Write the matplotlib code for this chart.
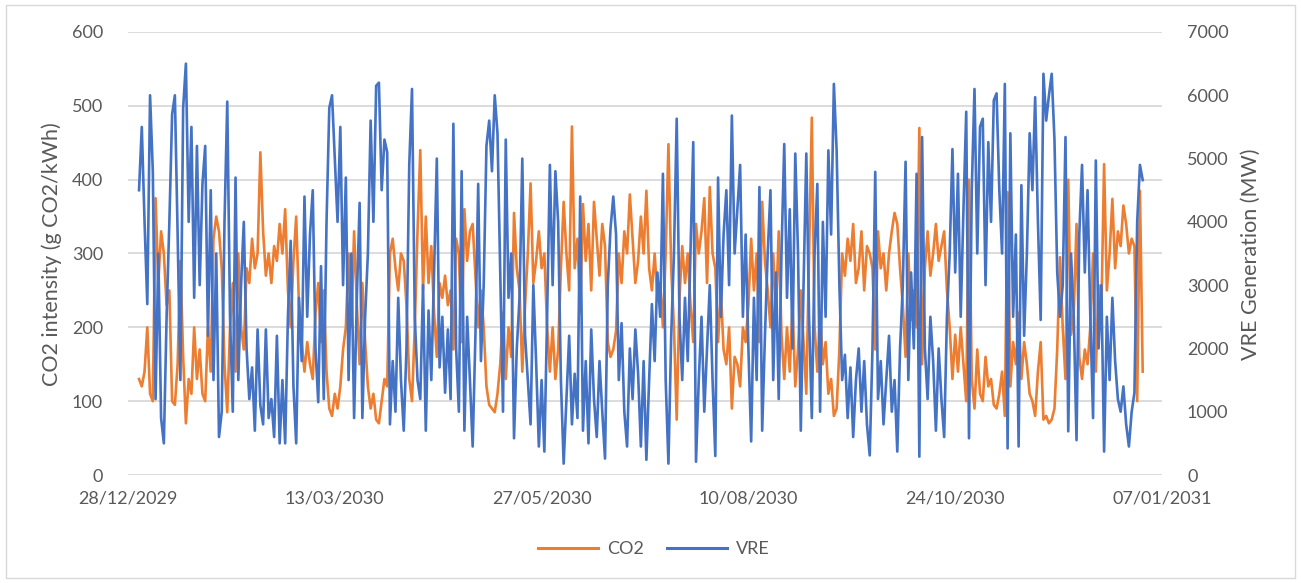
import matplotlib
matplotlib.use("Agg")
import matplotlib.pyplot as plt
from matplotlib.patches import Rectangle
from matplotlib.lines import Line2D
import pandas as pd

start_date = "2030-01-01"

vre = [
    4500, 5500, 4000, 2700, 6000, 4800, 1200, 3500, 900, 500,
    2500, 4000, 5700, 6000, 3800, 1500, 5800, 6500, 4000, 5500,
    2800, 5200, 3000, 4600, 5200, 2200, 4500, 1500, 3500, 600,
    1000, 4000, 5900, 2500, 1000, 4700, 1500, 3000, 4000, 2000,
    1200, 1700, 700, 2300, 1100, 800, 2300, 900, 1200, 600,
    2200, 500, 1500, 500, 2500, 3700, 1400, 500, 2800, 1800,
    4400, 2500, 3800, 4500, 2000, 1150, 3300, 1200, 4000, 5800,
    6000, 5000, 4000, 5500, 3000, 4700, 1500, 3500, 900, 2800,
    4300, 900, 2500, 3500, 5600, 4000, 6150, 6200, 4500, 5300,
    5100, 800, 1800, 1000, 2800, 1500, 700, 2000, 4900, 6100,
    2500, 1500, 1200, 3000, 700, 2600, 1500, 3200, 5000, 1700,
    2500, 1300, 2300, 1200, 5550, 2000, 1000, 4800, 700, 2500,
    1500, 450, 2200, 4600, 1800, 3000, 5200, 5600, 4800, 6000,
    5400, 3200, 1000, 5300, 2800, 3500, 580, 2000, 2800, 5000,
    2200, 1500, 800, 3000, 1800, 450, 1500, 370, 2500, 4900,
    3000, 4800, 4000, 1500, 180, 1200, 2200, 800, 1600, 900,
    4400, 700, 1800, 500, 2300, 1200, 600, 1800, 1000, 260,
    3000, 3900, 4400, 3800, 1500, 2400, 1000, 450, 2000, 1200,
    2300, 1600, 450, 1800, 240, 1500, 2700, 1800, 3200, 2500,
    4760, 1500, 180, 2200, 3500, 5630, 2500, 1500, 2800, 1800,
    3500, 5260, 210, 1500, 2500, 1000, 2000, 3000, 1500, 300,
    4700, 2500, 3800, 4500, 3000, 5680, 3500, 4200, 4900, 2500,
    3800, 2000, 530, 2800, 1500, 4550, 700, 2200, 3500, 4500,
    1500, 3200, 1200, 3500, 5230, 2800, 4200, 2000, 5080, 3500,
    700, 3000, 5080, 2500, 900, 3500, 4600, 1000, 4000, 2500,
    5130, 3800, 6180, 5130, 3000, 1500, 1900, 900, 1700, 600,
    1500, 2000, 1000, 1800, 800, 310, 2000, 4790, 1200, 1800,
    800, 1500, 2200, 1000, 1500, 370, 2000, 3000, 4950, 1500,
    3200, 2000, 4760, 290, 5340, 2000, 1200, 2500, 1800, 700,
    2000, 1200, 600, 2500, 3500, 5150, 3200, 4760, 2500, 4200,
    5740, 580, 4500, 6100, 3500, 5500, 5630, 3000, 5260, 4000,
    5920, 6030, 4500, 3500, 6180, 420, 5400, 2500, 3800, 450,
    4580, 2200, 3500, 5400, 4500, 5970, 4000, 2450, 6340, 5600,
    6000, 6340, 5300, 3200, 2500, 3000, 5340, 690, 3500, 2500,
    550, 3800, 4900, 3200, 4500, 2500, 900, 4970, 2000, 3000,
    370, 2500, 1500, 2800, 1800, 1200, 1000, 1400, 800, 450,
    1000, 1300, 4000, 4900, 4660,
]

co2 = [
    130, 120, 140, 200, 110, 100, 375, 260, 330, 300,
    230, 250, 100, 95, 150, 290, 160, 70, 130, 110,
    200, 130, 170, 110, 100, 200, 140, 320, 350, 330,
    280, 150, 85, 200, 260, 140, 300, 200, 170, 280,
    260, 320, 280, 300, 437, 330, 270, 300, 260, 310,
    290, 340, 300, 360, 250, 200, 290, 350, 230, 180,
    140, 180, 150, 130, 220, 260, 180, 250, 140, 90,
    80, 110, 90, 120, 170, 200, 300, 200, 330, 230,
    150, 260, 180, 120, 90, 110, 75, 70, 100, 130,
    120, 300, 320, 280, 250, 300, 290, 230, 130, 100,
    200, 330, 440, 250, 350, 260, 310, 220, 160, 260,
    240, 270, 230, 250, 170, 320, 300, 180, 360, 290,
    330, 340, 270, 200, 250, 200, 120, 95, 90, 85,
    110, 150, 220, 130, 200, 160, 355, 280, 250, 140,
    230, 300, 395, 260, 290, 330, 280, 300, 200, 140,
    200, 130, 170, 280, 370, 300, 250, 472, 280, 320,
    220, 367, 290, 340, 250, 370, 320, 270, 340, 310,
    180, 160, 170, 195, 300, 260, 330, 300, 380, 320,
    260, 290, 350, 300, 385, 280, 250, 300, 240, 260,
    200, 300, 448, 280, 200, 75, 240, 310, 260, 300,
    230, 180, 340, 300, 330, 375, 260, 390, 300, 280,
    180, 250, 170, 150, 200, 90, 160, 150, 120, 200,
    180, 230, 320, 250, 300, 180, 370, 290, 250, 200,
    300, 220, 330, 190, 130, 200, 140, 230, 120, 170,
    250, 180, 110, 300, 484, 200, 140, 220, 150, 180,
    110, 130, 80, 90, 170, 300, 270, 320, 290, 340,
    260, 280, 330, 250, 310, 300, 280, 170, 330, 280,
    300, 250, 300, 330, 355, 340, 280, 230, 160, 300,
    210, 250, 200, 470, 150, 280, 330, 270, 300, 340,
    290, 310, 330, 250, 200, 130, 190, 140, 200, 150,
    100, 400, 130, 90, 170, 110, 100, 160, 120, 130,
    95, 90, 110, 140, 80, 383, 120, 180, 150, 220,
    130, 180, 150, 110, 100, 80, 140, 180, 75, 80,
    70, 75, 90, 170, 295, 200, 130, 400, 190, 220,
    340, 160, 130, 170, 150, 200, 300, 140, 257, 220,
    421, 250, 300, 374, 280, 330, 310, 365, 340, 300,
    320, 310, 100, 385, 140,
]

x_tick_labels = ["28/12/2029", "13/03/2030", "27/05/2030", "10/08/2030", "24/10/2030", "07/01/2031"]
left_ticks = [0, 100, 200, 300, 400, 500, 600]
right_ticks = [0, 1000, 2000, 3000, 4000, 5000, 6000, 7000]

n = min(len(vre), len(co2))
dates = pd.date_range(start_date, periods=n, freq="D")

ORANGE = "#ED7D31"
BLUE = "#4472C4"
GRID = "#D9D9D9"
TXT = "#595959"
FONT = "Lato"

W, H = 1301, 583
fig = plt.figure(figsize=(W / 100, H / 100), dpi=100)
fig.patches.append(Rectangle((6 / W, 5 / H), (1295 - 6) / W, (578 - 5) / H,
                             transform=fig.transFigure, fill=False,
                             edgecolor="#D9D9D9", linewidth=1.0))

L, R, T, B = 128, 1162, 32, 475
ax = fig.add_axes([L / W, 1 - B / H, (R - L) / W, (B - T) / H])
ax2 = ax.twinx()

ax.plot(dates, co2[:n], color=ORANGE, linewidth=1.9, zorder=2)
ax2.plot(dates, vre[:n], color=BLUE, linewidth=1.9, zorder=3)

tick_dates = pd.to_datetime(x_tick_labels, format="%d/%m/%Y")
ax.set_xlim(tick_dates[0], tick_dates[-1])
ax.set_xticks(tick_dates)
ax.set_xticklabels(x_tick_labels)

ax.set_ylim(0, 600)
ax.set_yticks(left_ticks)
ax2.set_ylim(0, 7000)
ax2.set_yticks(right_ticks)

ax.yaxis.grid(True, color=GRID, linewidth=1.3)
ax.set_axisbelow(True)

for a in (ax, ax2):
    for s in a.spines.values():
        s.set_visible(False)
    a.tick_params(length=0)

ax.tick_params(axis="y", pad=18, labelsize=13, labelcolor=TXT)
ax.tick_params(axis="x", pad=11, labelsize=13, labelcolor=TXT)
ax2.tick_params(axis="y", pad=18, labelsize=13, labelcolor=TXT)
for lab in ax.get_xticklabels() + ax.get_yticklabels() + ax2.get_yticklabels():
    lab.set_fontfamily(FONT)

fig.text(52 / W, 1 - 254 / H, "CO2 intensity (g CO2/kWh)", rotation=90,
         ha="center", va="center", fontsize=15.5, color=TXT, fontfamily=FONT)
fig.text(1251 / W, 1 - 254 / H, "VRE Generation (MW)", rotation=90,
         ha="center", va="center", fontsize=15.5, color=TXT, fontfamily=FONT)

handles = [Line2D([], [], color=ORANGE, linewidth=2.2),
           Line2D([], [], color=BLUE, linewidth=2.2)]
leg = fig.legend(handles, ["CO2", "VRE"], loc="center", bbox_to_anchor=(654 / W, 1 - 549 / H),
                 ncol=2, frameon=False, handlelength=3.3, handletextpad=0.5,
                 columnspacing=1.3, prop={"family": FONT, "size": 13})
for t in leg.get_texts():
    t.set_color(TXT)

fig.savefig("out.png", dpi=100)
